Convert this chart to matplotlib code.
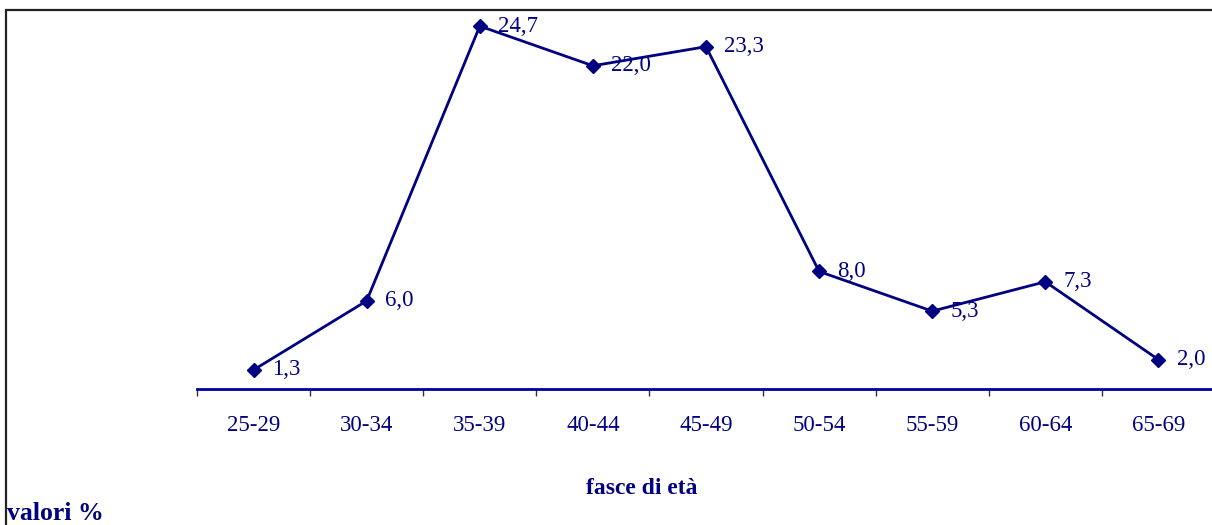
import matplotlib.pyplot as plt
from matplotlib.patches import Rectangle

# age bands and percentage values
fasce = ["25-29", "30-34", "35-39", "40-44", "45-49", "50-54", "55-59", "60-64", "65-69"]
valori = [1.3, 6.0, 24.7, 22.0, 23.3, 8.0, 5.3, 7.3, 2.0]

navy = "#000080"
plt.rcParams['font.family'] = ['Liberation Serif', 'DejaVu Serif']

W, H = 1212, 525
fig = plt.figure(figsize=(W / 100, H / 100), dpi=100)

# plot area: category boundaries run from x=197 px to beyond the right edge
ax = fig.add_axes([197 / W, 136 / H, 1018 / W, 382 / H])
ax.set_xlim(-0.5, len(fasce) - 0.5)
ax.set_ylim(0, 26)

x = range(len(fasce))
ax.plot(x, valori, color=navy, lw=2, marker='D', ms=7.5, mfc=navy, mec=navy, clip_on=False)

for xi, v in zip(x, valori):
    ax.annotate(f"{v:.1f}".replace('.', ','), (xi, v), xytext=(13, 0),
                textcoords='offset points', va='center', ha='left',
                fontsize=16.5, color=navy)

for s in ['left', 'right', 'top']:
    ax.spines[s].set_visible(False)
ax.spines['bottom'].set_color('#0000A0')
ax.spines['bottom'].set_linewidth(2)

ax.set_yticks([])
# boundary ticks between categories, labels at category centres
ax.set_xticks([i - 0.5 for i in range(len(fasce) + 1)])
ax.set_xticklabels([])
ax.tick_params(axis='x', which='major', length=5, width=1, color='#333333', direction='out')
ax.set_xticks(list(x), minor=True)
ax.set_xticklabels(fasce, minor=True, fontsize=16.5, color=navy)
ax.tick_params(axis='x', which='minor', length=0, pad=19)

fig.text(642 / W, (H - 488) / H, "fasce di età", ha='center', va='center',
         fontsize=17, fontweight='bold', color=navy)
fig.text(7 / W, 5 / H, "valori %", ha='left', va='baseline',
         fontsize=18.5, fontweight='bold', color=navy)

# outer frame, open at the right and bottom edges
fig.patches.append(Rectangle((6 / W, -0.1), 1.2, (H - 10) / H + 0.1,
                             transform=fig.transFigure, fill=False,
                             edgecolor='#222222', lw=1.6))

fig.savefig("out.png", dpi=100)
